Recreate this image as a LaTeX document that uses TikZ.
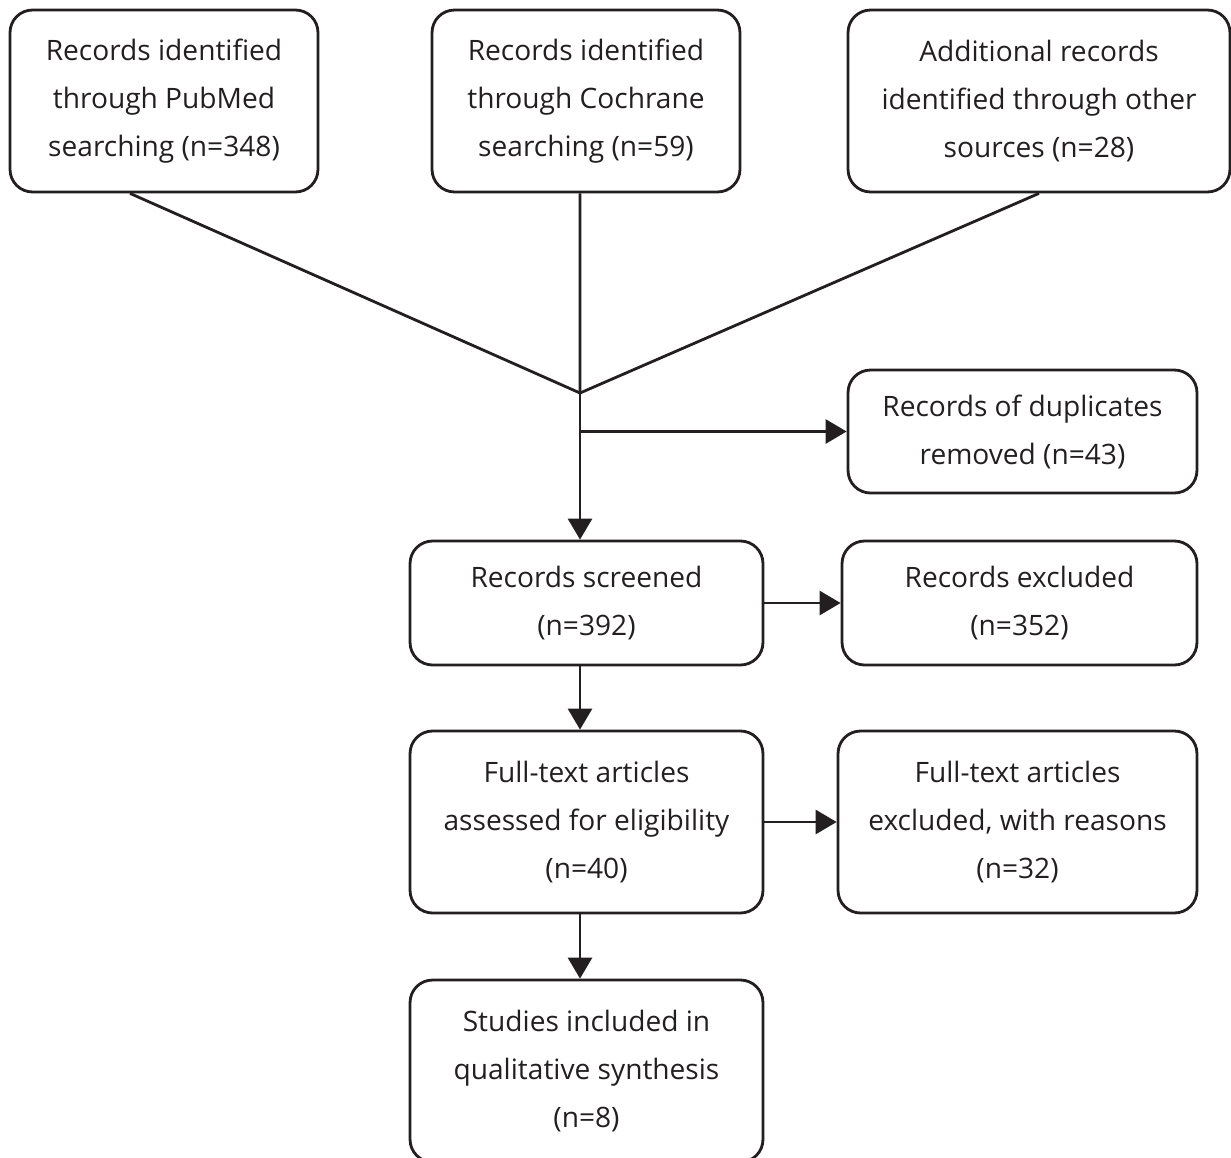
\documentclass[tikz,border=0pt]{standalone}
\usepackage{fontspec}
\setmainfont{Open Sans}
\usepackage{tikz}
\usetikzlibrary{arrows.meta}
\definecolor{inkdark}{RGB}{35,31,32}

\begin{document}
\begin{tikzpicture}[x=0.02cm, y=-0.02cm,
    recbox/.style={draw=inkdark, line width=1.6pt, rounded corners=0.45cm, align=center,
        text=inkdark, font=\fontsize{16pt}{27.3pt}\selectfont},
    flow/.style={draw=inkdark, line width=1.6pt, -{Triangle[length=0.42cm, width=0.48cm]}},
    plain/.style={draw=inkdark, line width=1.6pt}]
    \useasboundingbox (0,0) rectangle (1231,1157);

    % Identification
    \node[recbox, minimum width=6.16cm, minimum height=3.64cm]
        (pubmed) at (164,101) {Records identified\\through PubMed\\searching (n=348)};
    \node[recbox, minimum width=6.16cm, minimum height=3.64cm]
        (cochrane) at (586,101) {Records identified\\through Cochrane\\searching (n=59)};
    \node[recbox, minimum width=7.64cm, minimum height=3.64cm]
        (other) at (1039,101) {Additional records\\identified through other\\sources (n=28)};

    \coordinate (merge) at (580,393);
    \draw[plain] ([xshift=-0.68cm]pubmed.south) -- (merge);
    \draw[plain] ([xshift=-0.12cm]cochrane.south) -- (merge);
    \draw[plain] (other.south) -- (merge);

    % Screening
    \node[recbox, minimum width=6.98cm, minimum height=2.46cm]
        (dup) at (1022.5,431.5) {Records of duplicates\\removed (n=43)};
    \node[recbox, minimum width=7.06cm, minimum height=2.48cm]
        (screened) at (586.5,603) {Records screened\\(n=392)};
    \node[recbox, minimum width=7.1cm, minimum height=2.48cm]
        (excluded) at (1019.5,603) {Records excluded\\(n=352)};

    \draw[flow] (merge) -- (merge |- screened.north);
    \draw[flow] (dup.west -| merge) -- (dup.west);
    \draw[flow] (screened.east) -- (excluded.west);

    % Eligibility
    \node[recbox, minimum width=7.06cm, minimum height=3.64cm]
        (fulltext) at (586.5,822) {Full-text articles\\assessed for eligibility\\(n=40)};
    \node[recbox, minimum width=7.18cm, minimum height=3.64cm]
        (textexcl) at (1017.5,822) {Full-text articles\\excluded, with reasons\\(n=32)};

    \draw[flow] (screened.south -| merge) -- (fulltext.north -| merge);
    \draw[flow] (fulltext.east) -- (textexcl.west);

    % Included (box runs off the page bottom)
    \node[recbox, minimum width=7.06cm, minimum height=3.64cm]
        (studies) at (586.5,1071) {Studies included in\\qualitative synthesis\\(n=8)};

    \draw[flow] (fulltext.south -| merge) -- (studies.north -| merge);
\end{tikzpicture}
\end{document}
